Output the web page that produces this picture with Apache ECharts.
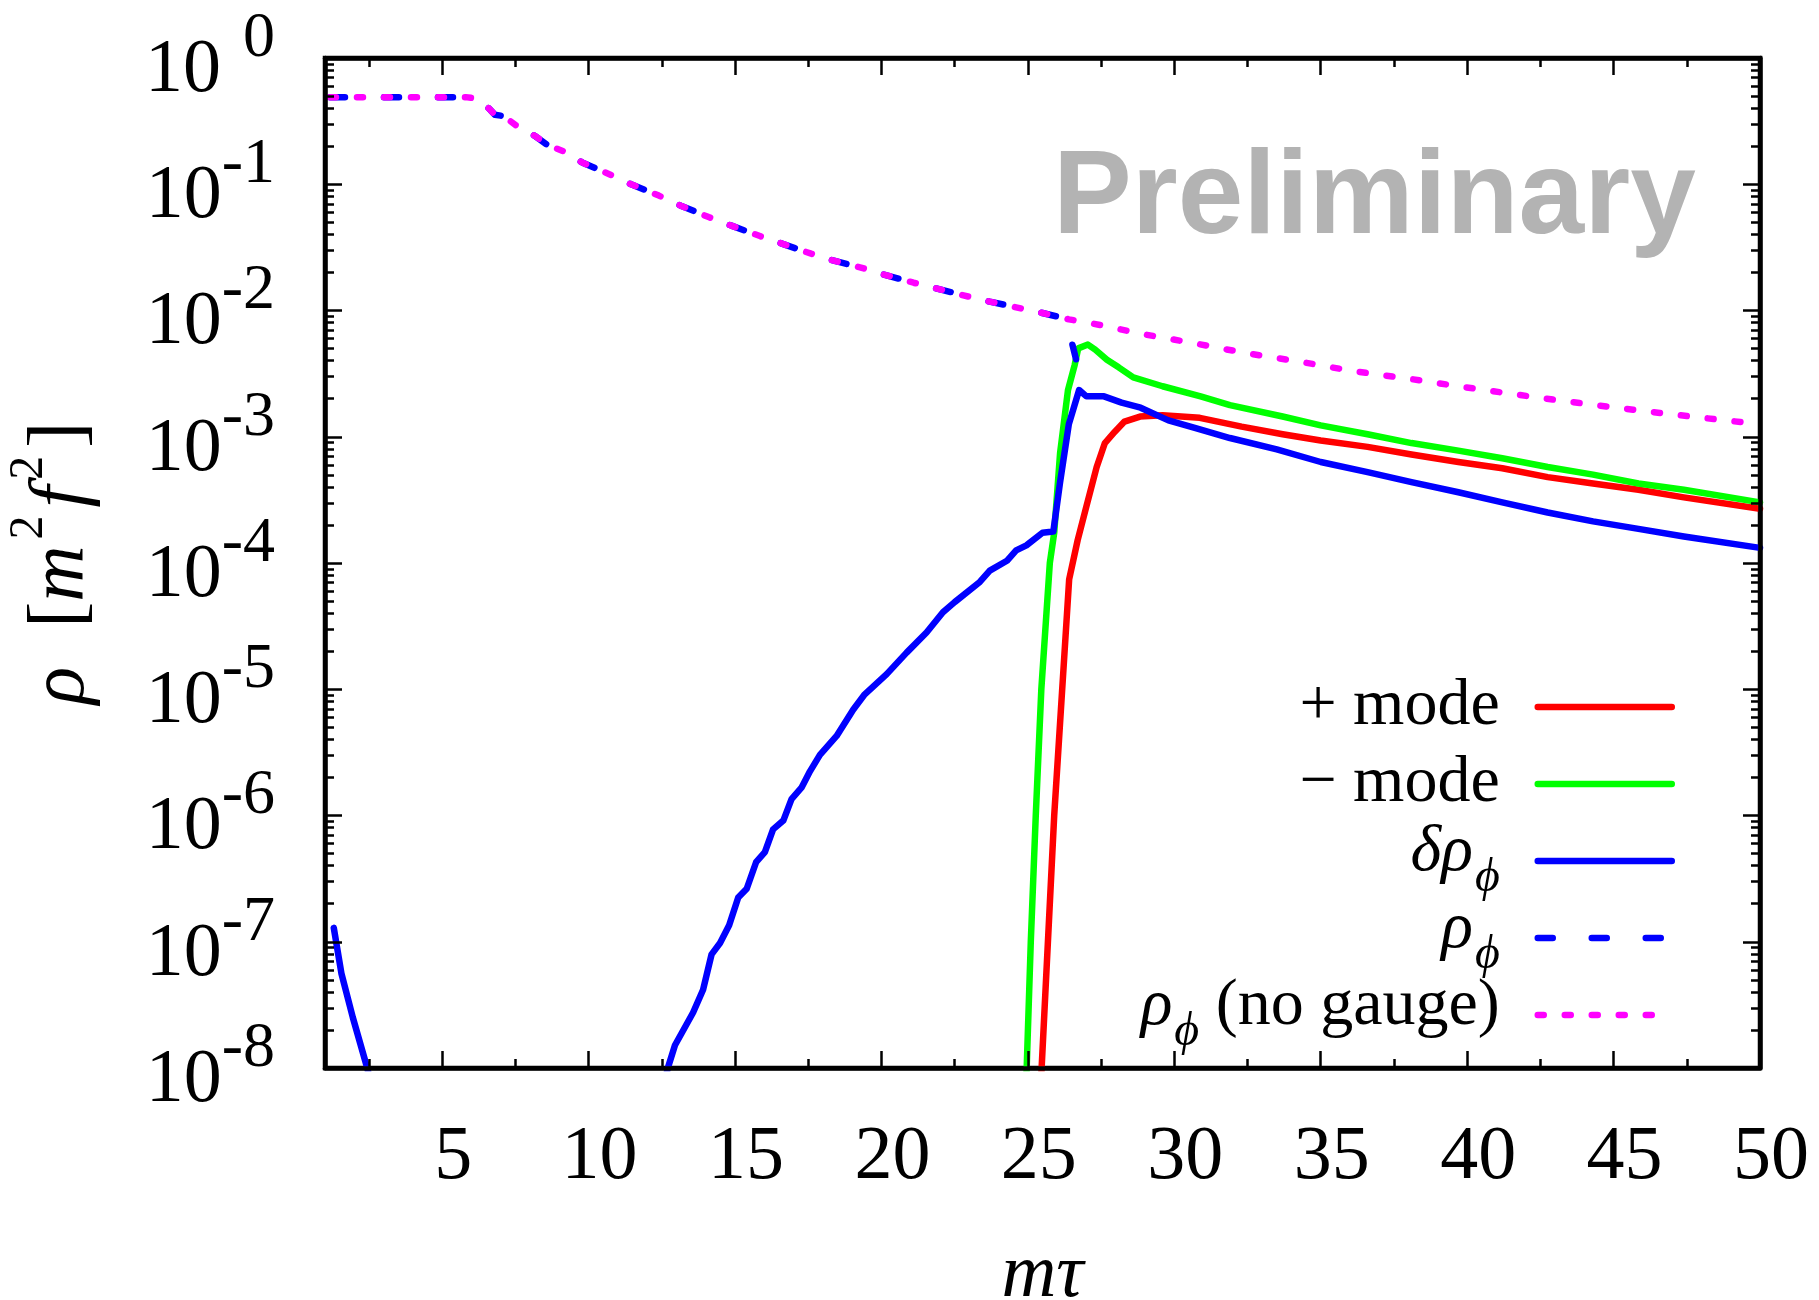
<!DOCTYPE html>
<html><head><meta charset="utf-8">
<script src="https://cdn.jsdelivr.net/npm/echarts@6/dist/echarts.min.js"></script>
<style>html,body{margin:0;padding:0;background:#fff}#c{width:1819px;height:1300px}</style>
</head><body><div id="c"></div>
<script>
const plusX   = [25.40, 25.47, 25.90, 26.41, 26.70, 27.00, 27.35, 27.63, 27.97, 28.30, 28.83, 29.60, 30.87, 32.30, 33.70, 35.00, 36.60, 38.10, 39.70, 41.20, 42.75, 44.30, 45.85, 47.40, 50.00];
const plusLog = [-8.40, -8.00, -6.00, -4.13, -3.82, -3.55, -3.24, -3.05, -2.96, -2.88, -2.84, -2.83, -2.85, -2.92, -2.98, -3.03, -3.08, -3.14, -3.20, -3.25, -3.32, -3.37, -3.42, -3.48, -3.57];

const minusX   = [24.90, 24.96, 25.10, 25.27, 25.46, 25.75, 25.90, 26.10, 26.37, 26.60, 26.72, 27.05, 27.30, 27.70, 28.10, 28.60, 29.60, 30.90, 31.90, 33.70, 35.00, 36.60, 38.10, 39.70, 41.20, 42.75, 44.30, 45.85, 47.40, 50.00];
const minusLog = [-8.40, -8.00, -7.00, -6.00, -5.00, -4.00, -3.76, -3.13, -2.63, -2.43, -2.30, -2.27, -2.31, -2.39, -2.45, -2.53, -2.60, -2.68, -2.75, -2.84, -2.91, -2.98, -3.05, -3.11, -3.17, -3.24, -3.30, -3.37, -3.42, -3.52];

const dRhoX   = [1.30, 1.56, 1.95, 2.43, 2.60, 7.50, 12.60, 12.72, 12.95, 13.57, 13.91, 14.20, 14.49, 14.80, 15.11, 15.40, 15.72, 16.02, 16.30, 16.65, 16.93, 17.27, 17.56, 17.90, 18.47, 19.04, 19.43, 20.18, 20.86, 21.54, 22.10, 22.50, 23.36, 23.70, 24.30, 24.60, 24.95, 25.50, 25.87, 26.10, 26.40, 26.75, 27.00, 27.60, 28.20, 28.85, 29.80, 30.70, 31.90, 33.50, 35.00, 36.60, 38.10, 39.70, 41.20, 42.75, 44.30, 45.85, 47.40, 50.00];
const dRhoLog = [-6.89, -7.25, -7.60, -7.99, -8.15, null, -8.10, -7.99, -7.82, -7.56, -7.38, -7.10, -7.01, -6.87, -6.65, -6.58, -6.37, -6.29, -6.11, -6.04, -5.87, -5.78, -5.65, -5.52, -5.37, -5.16, -5.04, -4.88, -4.71, -4.55, -4.39, -4.31, -4.15, -4.06, -3.98, -3.90, -3.86, -3.76, -3.75, -3.36, -2.90, -2.63, -2.68, -2.68, -2.73, -2.77, -2.87, -2.93, -3.01, -3.10, -3.20, -3.28, -3.36, -3.44, -3.52, -3.60, -3.67, -3.73, -3.79, -3.88];

const rhoX   = [1.17, 2.00, 3.00, 4.00, 5.00, 5.80, 6.15, 6.60, 6.80, 7.10, 7.50, 8.19, 8.60, 9.16, 9.80, 10.80, 11.45, 12.40, 13.15, 14.10, 14.90, 15.85, 16.60, 17.60, 18.30, 19.30, 20.00, 21.10, 21.80, 22.80, 23.70, 24.50, 25.50, 26.40, 26.50, 26.68];
const rhoLog = [-0.31, -0.31, -0.31, -0.31, -0.31, -0.31, -0.32, -0.40, -0.45, -0.46, -0.53, -0.62, -0.69, -0.74, -0.83, -0.93, -1.00, -1.09, -1.17, -1.26, -1.33, -1.41, -1.47, -1.55, -1.60, -1.66, -1.71, -1.78, -1.82, -1.88, -1.93, -1.97, -2.02, -2.07, -2.25, -2.42];

const noGaugeX   = [1.17, 2.00, 3.00, 4.00, 5.00, 5.80, 6.15, 6.60, 6.80, 7.10, 7.50, 8.19, 8.60, 9.16, 9.80, 10.80, 11.45, 12.40, 13.15, 14.10, 14.90, 15.85, 16.60, 17.60, 18.30, 19.30, 20.00, 21.10, 21.80, 22.80, 23.70, 24.50, 25.50, 26.40, 27.15, 29.00, 30.70, 32.50, 34.40, 36.10, 38.00, 39.70, 41.50, 43.40, 45.10, 46.90, 48.80, 50.00];
const noGaugeLog = [-0.31, -0.31, -0.31, -0.31, -0.31, -0.31, -0.32, -0.40, -0.45, -0.46, -0.53, -0.62, -0.69, -0.74, -0.83, -0.93, -1.00, -1.09, -1.17, -1.26, -1.33, -1.41, -1.47, -1.55, -1.60, -1.66, -1.71, -1.78, -1.82, -1.88, -1.93, -1.97, -2.02, -2.07, -2.10, -2.19, -2.26, -2.34, -2.41, -2.48, -2.54, -2.60, -2.66, -2.72, -2.77, -2.82, -2.87, -2.90];

const seriesNames = ['+ mode', '\u2212 mode', '\u03b4\u03c1\u03d5', '\u03c1\u03d5', '\u03c1\u03d5 (no gauge)'];
const legendLabels = ['{r|+ mode}', '{r|\u2212 mode}', '{i|\u03b4\u03c1}{sub|\u03d5}', '{i|\u03c1}{sub|\u03d5}', '{i|\u03c1}{sub|\u03d5}{r| (no gauge)}'];
const xMajorTicks = [5, 10, 15, 20, 25, 30, 35, 40, 45, 50];
const xMinorTicks = [2.5, 7.5, 12.5, 17.5, 22.5, 27.5, 32.5, 37.5, 42.5, 47.5];
const yMajorTicks = [1e-8, 1e-7, 1e-6, 1e-5, 1e-4, 1e-3, 1e-2, 1e-1, 1];
const yMinorTicks = [];
for (let e = -8; e < 0; e++) for (let k = 2; k <= 9; k++) yMinorTicks.push(k * Math.pow(10, e));

// ---- build ----
const SERIF = '"Liberation Serif", "Times New Roman", serif';
const LW = 6.5;
function toPairs(xs, ls) { return xs.map((x, i) => ls[i] == null ? [x, '-'] : [x, Math.pow(10, ls[i])]); }

const chart = echarts.init(document.getElementById('c'), null, {renderer: 'canvas'});

const xBase = {type: 'value', min: 1, max: 50, splitLine: {show: false}, z: 5};
const yBase = {type: 'log', logBase: 10, min: 1e-8, max: 1, splitLine: {show: false}, z: 5};
const lineBlack = {color: '#000', width: 4.5};
const tickStyle = {color: '#000', width: 2.5};

const legendCenters = [718, 795, 872, 949, 1026];
const LH = 110;

const option = {
  animation: false,
  backgroundColor: '#fff',
  grid: {left: 325, right: 59, top: 58, bottom: 232, show: true, borderColor: '#000', borderWidth: 4.5, containLabel: false, outerBoundsMode: 'none'},
  xAxis: [
    Object.assign({}, xBase, {
      position: 'bottom',
      axisLine: {show: true, onZero: false, lineStyle: lineBlack},
      axisTick: {show: true, inside: true, length: 17, lineStyle: tickStyle, customValues: xMajorTicks},
      axisLabel: {show: true, customValues: xMajorTicks, color: '#000', fontFamily: SERIF, fontSize: 76, margin: 52, padding: [0, 0, 0, 22]},
      name: '{i|m\u03c4}', nameLocation: 'middle', nameGap: 170,
      nameTextStyle: {rich: {i: {fontFamily: SERIF, fontStyle: 'italic', fontSize: 76, color: '#000'}}}
    }),
    Object.assign({}, xBase, {position: 'bottom', axisLine: {show: false}, axisTick: {show: true, inside: true, length: 9, lineStyle: tickStyle, customValues: xMinorTicks}, axisLabel: {show: false}}),
    Object.assign({}, xBase, {position: 'top', axisLine: {show: true, onZero: false, lineStyle: lineBlack}, axisTick: {show: true, inside: true, length: 17, lineStyle: tickStyle, customValues: xMajorTicks}, axisLabel: {show: false}}),
    Object.assign({}, xBase, {position: 'top', axisLine: {show: false}, axisTick: {show: true, inside: true, length: 9, lineStyle: tickStyle, customValues: xMinorTicks}, axisLabel: {show: false}})
  ],
  yAxis: [
    Object.assign({}, yBase, {
      position: 'left',
      axisLine: {show: true, onZero: false, lineStyle: lineBlack},
      axisTick: {show: true, inside: true, length: 17, lineStyle: tickStyle, customValues: yMajorTicks},
      axisLabel: {
        show: true, customValues: yMajorTicks, margin: 50,
        formatter: function (v) { const e = Math.round(Math.log10(v)); return e === 0 ? '{b|10}{s0|0}' : '{b|10}{s|' + e + '}'; },
        rich: {
          b: {fontFamily: SERIF, fontSize: 76, color: '#000', verticalAlign: 'bottom'},
          s: {fontFamily: SERIF, fontSize: 64, color: '#000', verticalAlign: 'bottom', padding: [0, 0, 38, 0]},
          s0: {fontFamily: SERIF, fontSize: 64, color: '#000', verticalAlign: 'bottom', padding: [0, 0, 38, 22]}
        }
      },
      name: '{i|\u03c1}{r|  [}{i|m}{s|2}{i|f}{s|2}{r|]}', nameLocation: 'middle', nameGap: 224, nameRotate: 90,
      nameTextStyle: {rich: {
        i: {fontFamily: SERIF, fontStyle: 'italic', fontSize: 78, color: '#000', verticalAlign: 'bottom'},
        r: {fontFamily: SERIF, fontSize: 78, color: '#000', verticalAlign: 'bottom'},
        s: {fontFamily: SERIF, fontSize: 48, color: '#000', verticalAlign: 'bottom', padding: [0, 8, 48, 6]}
      }}
    }),
    Object.assign({}, yBase, {position: 'left', axisLine: {show: false}, axisTick: {show: true, inside: true, length: 9, lineStyle: tickStyle, customValues: yMinorTicks}, axisLabel: {show: false}}),
    Object.assign({}, yBase, {position: 'right', axisLine: {show: true, onZero: false, lineStyle: lineBlack}, axisTick: {show: true, inside: true, length: 17, lineStyle: tickStyle, customValues: yMajorTicks}, axisLabel: {show: false}}),
    Object.assign({}, yBase, {position: 'right', axisLine: {show: false}, axisTick: {show: true, inside: true, length: 9, lineStyle: tickStyle, customValues: yMinorTicks}, axisLabel: {show: false}})
  ],
  legend: seriesNames.map(function (nm, i) {
    return {
      data: [nm], orient: 'vertical', right: 144, top: legendCenters[i] - LH / 2, align: 'right',
      itemWidth: 134, itemHeight: LH, itemGap: 0, padding: 0, selectedMode: false,
      itemStyle: {opacity: 0},
      lineStyle: {width: LW, cap: 'round'},
      formatter: function () { return legendLabels[i]; },
      textStyle: {color: '#000', fontFamily: SERIF, fontSize: 66, padding: [0, 33, 0, 0], rich: {
        r: {fontFamily: SERIF, fontSize: 66, color: '#000', verticalAlign: 'top'},
        i: {fontFamily: SERIF, fontStyle: 'italic', fontSize: 66, color: '#000', verticalAlign: 'top'},
        sub: {fontFamily: SERIF, fontStyle: 'italic', fontSize: 48, color: '#000', verticalAlign: 'top', padding: [34, 0, 0, 2]}
      }}
    };
  }),
  graphic: [{
    type: 'text', left: 1053, top: 141, z: 0,
    style: {text: 'Preliminary', font: 'bold 118px "Liberation Sans", Arial, sans-serif', fill: '#b3b3b3'}
  }],
  series: [
    {name: seriesNames[0], type: 'line', data: toPairs(plusX, plusLog), symbol: 'none', z: 2,
     lineStyle: {color: '#ff0000', width: LW, cap: 'round', join: 'round'}, itemStyle: {color: '#ff0000'}},
    {name: seriesNames[1], type: 'line', data: toPairs(minusX, minusLog), symbol: 'none', z: 2,
     lineStyle: {color: '#00ff00', width: LW, cap: 'round', join: 'round'}, itemStyle: {color: '#00ff00'}},
    {name: seriesNames[2], type: 'line', data: toPairs(dRhoX, dRhoLog), symbol: 'none', z: 2, connectNulls: false,
     lineStyle: {color: '#0000ff', width: LW, cap: 'round', join: 'round'}, itemStyle: {color: '#0000ff'}},
    {name: seriesNames[3], type: 'line', data: toPairs(rhoX, rhoLog), symbol: 'none', z: 2,
     lineStyle: {color: '#0000ff', width: LW, type: [15, 39], cap: 'round', join: 'round'}, itemStyle: {color: '#0000ff'}},
    {name: seriesNames[4], type: 'line', data: toPairs(noGaugeX, noGaugeLog), symbol: 'none', z: 2,
     lineStyle: {color: '#ff00ff', width: LW, type: [6, 21], cap: 'round', join: 'round'}, itemStyle: {color: '#ff00ff'}}
  ]
};
chart.setOption(option);
</script>
</body></html>
